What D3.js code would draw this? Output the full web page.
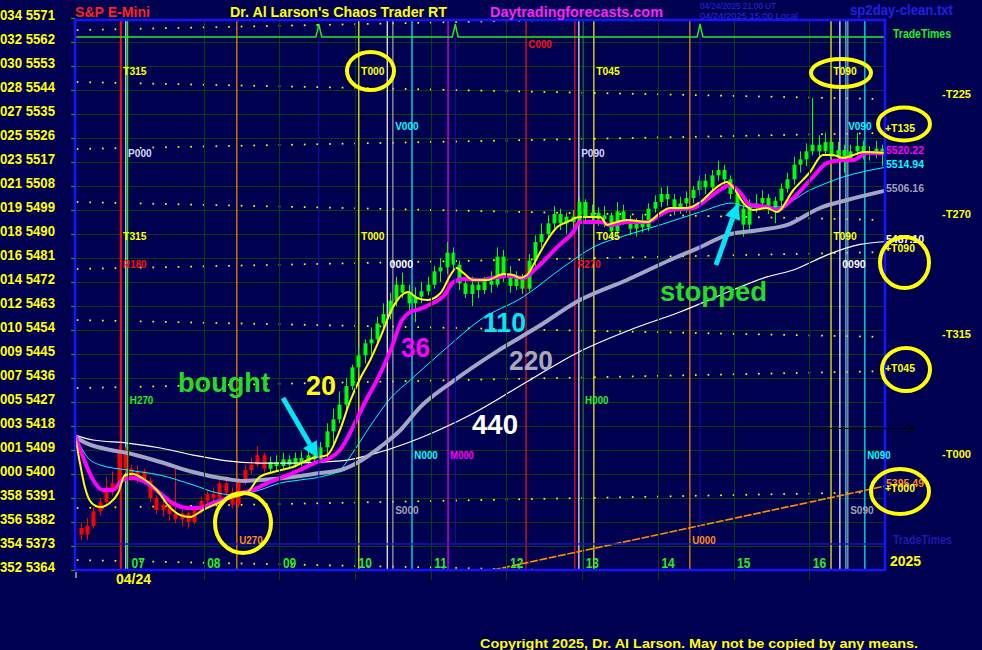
<!DOCTYPE html>
<html><head><meta charset="utf-8">
<script src="https://cdn.jsdelivr.net/npm/d3@7"></script>
<style>html,body{margin:0;padding:0;background:#000050;overflow:hidden}svg{display:block}</style>
</head><body><svg id="c" width="982" height="650"></svg>
<script>
// ---------------- DATA ----------------
const priceTicks=[5364,5373,5382,5391,5400,5409,5418,5427,5436,5445,5454,5463,5472,5481,5490,5499,5508,5517,5526,5535,5544,5553,5562,5571];
const degreeLabels=["352","354","356","358","000","001","003","005","007","009","010","012","014","016","018","019","021","023","025","027","028","030","032","034"];
const hourTicks=[7,8,9,10,11,12,13,14,15,16];
const hourLabels=["07","08","09","10","11","12","13","14","15","16"];

// 5-minute bars starting 06:20
const barStartHour=6+20/60, barMinutes=5, firstLongBar=30;
const barOpen=[5379.75,5377.25,5380.5,5386,5389.5,5394,5396.5,5409,5402,5399,5401,5397.5,5391,5386.5,5388.5,5385,5383,5385.25,5382,5386.5,5390,5392.5,5391,5396.5,5393,5388.5,5397,5401.5,5403.5,5407,
5402,5404.5,5403,5405.5,5403.5,5406,5404.5,5407,5405.5,5410,5416,5420.5,5426,5433,5440,5444.5,5449,5450.5,5456.5,5460,5465,5471,5468,5464,5466.5,5468.5,5471,5476,5477.5,5483,
5478.5,5471.5,5467.5,5471,5469,5472.5,5471,5481.5,5475,5470.5,5473.5,5469.5,5480,5487,5490,5494,5497.5,5494,5496.5,5494.5,5502,5496,5498,5495.5,5497,5491,5498.5,5495.5,5492,5494,
5492.5,5499.5,5502,5505,5503,5499.5,5501.5,5503.5,5506.5,5510,5507.5,5512,5514,5510.5,5505,5499.5,5493.5,5500,5501.5,5503.5,5500,5502.5,5507,5510.5,5516,5518,5521,5523.5,5521,5524.5,
5519,5521.5,5518.5,5521,5523,5520,5521,5522];
const barHigh=[5381.5,5383.5,5387.5,5391,5399,5401,5410.5,5410,5403.5,5403,5402,5398.5,5392,5391.5,5390,5402,5386.5,5386,5388,5391.5,5394,5395,5397.5,5399,5395,5398.5,5403.5,5406,5410.5,5408,
5406.5,5407,5408,5407,5408,5408.5,5409,5410.5,5412,5419,5424.5,5431,5436,5441,5447.5,5450.5,5455,5459,5464,5468,5474,5475.5,5471,5470,5472,5474,5478,5481,5487,5485,
5480,5473,5474,5472.5,5474,5476,5485,5484,5478,5476,5475,5482.5,5489.5,5494,5497,5500.5,5499.5,5498,5499,5504,5503,5501,5500,5500.5,5498,5502,5501,5497,5496,5497.5,
5501.5,5504.5,5507.5,5508,5505,5504,5506,5508,5512,5512.5,5514,5517.5,5516,5512,5507,5501,5503,5505,5506.5,5505,5504,5509,5513,5519,5521,5524,5541,5527,5528,5526,
5524.5,5523.5,5523.5,5528,5525,5523,5525,5523.5];
const barLow=[5375.25,5375.25,5379.5,5384.5,5388.5,5392,5395,5400.5,5397.5,5396.5,5396,5389.5,5385,5384,5382.5,5381.5,5380.5,5379.5,5381,5385,5389,5389.5,5390,5391.5,5387,5387.5,5396,5400,5402.5,5400.5,
5400.5,5401,5402,5402,5402.5,5403,5403.5,5404,5404.5,5406,5411,5419,5424,5431.5,5438,5441.5,5444.5,5448,5454,5458,5463,5466,5461.5,5457,5464,5467,5469.5,5472,5475,5476,
5469,5466,5463,5466,5467.5,5468,5470,5472,5468,5469,5467.5,5468.5,5478,5485,5488,5492,5491.5,5490,5492,5493,5494,5494,5493,5492.5,5488,5489.5,5493.5,5489.5,5489,5490.5,
5491,5498,5500,5500.5,5497,5497.5,5498,5501.5,5504.5,5505,5506,5510,5508.5,5503,5497,5489,5491,5498,5499.5,5497.5,5494,5500.5,5505.5,5508.5,5513,5515.5,5519.5,5518.5,5520,5516,
5517.5,5513,5517,5519.5,5518,5517.5,5518.5,5515.5];
const barClose=[5377.25,5380.5,5386,5389.5,5394,5396.5,5409,5402,5399,5401,5397.5,5391,5386.5,5388.5,5385,5383,5385.25,5382,5386.5,5390,5392.5,5391,5396.5,5393,5388.5,5397,5401.5,5403.5,5407,5402,
5404.5,5403,5405.5,5403.5,5406,5404.5,5407,5405.5,5410,5416,5420.5,5426,5433,5440,5444.5,5449,5450.5,5456.5,5460,5465,5471,5468,5464,5466.5,5468.5,5471,5476,5477.5,5483,5478.5,
5471.5,5467.5,5471,5469,5472.5,5471,5481.5,5475,5470.5,5473.5,5469.5,5480,5487,5490,5494,5497.5,5494,5496.5,5494.5,5502,5496,5498,5495.5,5497,5491,5498.5,5495.5,5492,5494,5492.5,
5499.5,5502,5505,5503,5499.5,5501.5,5503.5,5506.5,5510,5507.5,5512,5514,5510.5,5505,5499.5,5493.5,5500,5501.5,5503.5,5500,5502.5,5507,5510.5,5516,5518,5521,5523.5,5521,5524.5,5519,
5521.5,5518.5,5521,5523,5520,5521,5522,5520];

// moving averages: [hour, price]
const ma20=[[6.30,5414.6],[6.37,5403.4],[6.43,5395.1],[6.52,5389.1],[6.63,5387.6],[6.76,5389.1],[6.87,5392.9],[6.96,5399.6],[7.06,5400],[7.19,5398.5],[7.38,5394],[7.55,5387.6],[7.69,5384.6],[7.82,5383.9],[7.99,5386.5],[8.19,5389.1],[8.39,5391.4],[8.57,5392.9],[8.74,5398.9],[8.92,5400.75],[9.18,5402.6],[9.44,5406],[9.63,5407.1],[9.80,5416.5],[9.93,5427],[10.07,5436],[10.20,5442.75],[10.33,5451],[10.50,5462.6],[10.70,5468.25],[10.82,5466],[10.95,5465.25],[11.13,5467.9],[11.26,5474.6],[11.34,5477.25],[11.43,5475.4],[11.56,5472.75],[11.75,5472.75],[11.96,5475],[12.09,5474.6],[12.18,5473.5],[12.27,5474.6],[12.41,5481.4],[12.54,5487.75],[12.67,5492.6],[12.80,5494.5],[12.97,5496.4],[13.24,5496.4],[13.33,5493.4],[13.41,5494.1],[13.59,5495.25],[13.86,5494.5],[14.03,5497.9],[14.16,5499.75],[14.39,5499.75],[14.56,5502],[14.78,5507.6],[14.91,5509.5],[14.99,5507.6],[15.13,5501.6],[15.26,5499],[15.44,5499.75],[15.57,5498.25],[15.79,5506.5],[16.01,5513.25],[16.18,5519.6],[16.31,5519.6],[16.45,5518.5],[16.58,5519.6],[16.71,5520.75],[16.99,5520.4]];
const ma36=[[6.30,5414.6],[6.46,5402.6],[6.54,5397.75],[6.67,5394],[6.80,5394],[6.93,5397.75],[7.07,5398.5],[7.25,5396.6],[7.42,5392.9],[7.59,5389.1],[7.78,5387.25],[7.95,5387.25],[8.12,5389.1],[8.31,5391],[8.48,5392.9],[8.65,5394],[8.84,5396.6],[9.01,5398.5],[9.27,5401.5],[9.50,5404.5],[9.67,5406],[9.80,5409],[10.03,5421],[10.16,5428.5],[10.29,5435.25],[10.47,5446.5],[10.62,5457.75],[10.73,5460.75],[10.86,5461.9],[11.00,5463.75],[11.17,5466.75],[11.30,5472],[11.43,5473.1],[11.65,5472.75],[11.88,5473.9],[12.05,5474.25],[12.22,5473.5],[12.41,5477.6],[12.67,5485.1],[12.88,5490.75],[12.97,5494.5],[13.24,5494.5],[13.37,5493.4],[13.59,5494.5],[13.86,5494.5],[14.03,5497.1],[14.16,5499],[14.47,5499.75],[14.60,5502],[14.82,5506.5],[14.95,5508.4],[15.09,5505.4],[15.22,5500.9],[15.44,5500.1],[15.57,5499],[15.79,5503.5],[16.05,5511.4],[16.23,5516.6],[16.45,5517.75],[16.58,5517.75],[16.76,5520.4],[16.99,5520.22]];
const ma110=[[6.30,5414.25],[6.33,5412.75],[6.46,5406.4],[6.63,5403.4],[6.99,5401.5],[7.42,5399.6],[7.86,5395.9],[8.18,5392.9],[8.44,5392.1],[8.74,5394],[9.01,5396.6],[9.27,5397.75],[9.54,5398.9],[9.80,5401.5],[9.94,5406.75],[10.20,5418],[10.47,5428.5],[10.73,5435.25],[11.22,5447.6],[11.65,5457.75],[12.22,5466.4],[12.75,5477.6],[13.15,5485.1],[13.59,5489.6],[14.03,5493.4],[14.56,5498.25],[14.99,5501.6],[15.18,5500.1],[15.57,5500.1],[16.01,5506.5],[16.45,5511.4],[16.99,5514.94]];
const ma220=[[6.30,5414.25],[6.37,5412.75],[6.77,5409],[6.99,5407.9],[7.43,5404.5],[7.86,5400.75],[8.31,5398.1],[8.52,5397.4],[8.75,5397.75],[9.18,5398.9],[9.54,5400.4],[9.81,5401.5],[10.07,5404.9],[10.33,5410.1],[10.60,5416.5],[10.86,5425.1],[11.26,5434.1],[11.88,5446.1],[12.41,5455.1],[12.97,5465.25],[13.59,5472.75],[14.16,5480.25],[14.56,5485.1],[14.91,5489.6],[15.35,5491.5],[15.71,5493.4],[16.14,5499.75],[16.50,5502.75],[16.99,5506.16]];
const ma440=[[6.30,5414.6],[6.54,5412.75],[6.99,5411.6],[7.43,5409.75],[7.86,5407.1],[8.31,5404.9],[8.75,5404.1],[9.18,5404.1],[9.81,5404.9],[10.33,5408.25],[10.86,5413.5],[11.52,5422.1],[12.31,5435.25],[12.93,5445.4],[13.63,5454],[14.29,5460.75],[14.99,5469],[15.44,5473.9],[15.79,5476.5],[16.23,5482.1],[16.67,5486.1],[16.99,5487.1]];
const orangeTrend=[[11.82,5364],[17.0,5395.49]];
const lastValues=[5520.22,5514.94,5506.16,5487.10,5395.49];

// event (vertical) lines
const vlineTimes=[6.905,6.971,6.994,8.438,10.049,10.425,10.499,10.752,11.228,12.258,12.903,12.956,13.008,13.154,14.422,16.287,16.404,16.483,16.509,16.734];
const vlineColors=["#ff1010","#e8e8ff","#22ee22","#ff8c00","#ffff00","#ffffff","#a8a8a8","#00ffff","#ff00ff","#ff1010","#ff1010","#f0f0ff","#22ee22","#ffff00","#ff8c00","#ffff00","#ffffff","#40e8ff","#a8a8a8","#00ffff"];
const vlabelTimes=[6.905,6.905,6.905,6.971,6.994,8.438,10.049,10.049,10.425,10.499,10.499,10.752,11.228,12.258,12.903,12.956,13.008,13.154,13.154,14.422,16.287,16.287,16.404,16.483,16.509,16.734];
const vlabelTexts=["T315","T315","R180","P000","H270","U270","T000","T000","0000","V000","S000","N000","M000","C000","R270","P090","H000","T045","T045","U000","T090","T090","0090","V090","S090","N090"];
const vlabelRows=["T1","T2","R","P","H","U","T1","T2","O","V","S","N","M","C","R","P","H","T1","T2","U","T1","T2","O","V","S","N"];
const tradeTimes=[9.521,11.323,14.557];

// harmonic price levels (right side)
const plusLevelPrices=[5529.75,5484.75,5439.75,5394.75];
const plusLevelLabels=["+T135","+T090","+T045","+T000"];
const minusLevelPrices=[5542.5,5497.5,5452.5,5407.5];
const minusLevelLabels=["-T225","-T270","-T315","-T000"];
const markerPrice=5417.25, markerFrom=16.05, markerTo=17.39;

// dotted level rows: price at 06:20 and at 17:00
const dotRowStart=[5566.5,5547,5521.9,5502,5476.9,5457.75,5432.25,5387.25,5367.75];
const dotRowEnd=[5572.9,5540.6,5527.9,5495.25,5483.25,5451.4,5438.6,5393.25,5361.4];

// ---------------- DRAW ----------------
const FONT="'Liberation Sans', Arial, Helvetica, sans-serif";
const svg=d3.select('#c');
svg.append('rect').attr('width',982).attr('height',650).attr('fill','#000050');
const L=75,R=885,T=20,B=570;
const x=d3.scaleLinear().domain([6.3,17]).range([L,R]);
const y=d3.scaleLinear().domain([5364,5571]).range([B,18]);

svg.append('clipPath').attr('id','clip').append('rect').attr('x',L).attr('y',T).attr('width',R-L).attr('height',B-T);
const gp=svg.append('g').attr('clip-path','url(#clip)');

function txt(g,xx,yy,s,o){
  const t=g.append('text').attr('x',xx).attr('y',yy).text(s)
   .attr('fill',o.color).attr('font-size',o.size).attr('font-weight',o.weight||'bold')
   .attr('font-family',FONT);
  if(o.anchor) t.attr('text-anchor',o.anchor);
  if(o.width) t.attr('textLength',o.width).attr('lengthAdjust','spacingAndGlyphs');
  else if(o.squeeze){const n=t.node().getComputedTextLength();t.attr('textLength',n*o.squeeze).attr('lengthAdjust','spacingAndGlyphs');}
  return t;
}

// grid
const gridC='#0b3e0b';
gp.selectAll('.hg').data(priceTicks).enter().append('line')
  .attr('x1',L).attr('x2',R).attr('y1',d=>Math.round(y(d))+0.5).attr('y2',d=>Math.round(y(d))+0.5)
  .attr('stroke',gridC).attr('stroke-width',1);
svg.selectAll('.vg').data(hourTicks).enter().append('line')
  .attr('x1',d=>Math.round(x(d))+0.5).attr('x2',d=>Math.round(x(d))+0.5).attr('y1',T).attr('y2',580)
  .attr('stroke',gridC).attr('stroke-width',1);

// dotted rows
const dotTimes=d3.range(0,64).map(i=>barStartHour+i*10/60);
dotRowStart.forEach((p0,ri)=>{
  const p1=dotRowEnd[ri];
  const pr=t=>p0+(p1-p0)*(t-barStartHour)/(17-barStartHour);
  gp.selectAll(null).data(dotTimes).enter().append('rect')
    .attr('x',t=>x(t)-0.8).attr('y',t=>y(pr(t))-0.8).attr('width',1.7).attr('height',1.7).attr('fill','#ffff00');
});

// trade-time panels
const ttY=d3.scaleLinear().domain([0,1]).range([37,24]);
const ttPts=[[L,0]];
tradeTimes.forEach(t=>{const cx=x(t);ttPts.push([cx-3,0],[cx-1.5,0.45],[cx,1],[cx+1.5,0.45],[cx+3,0]);});
ttPts.push([R,0]);
svg.selectAll('.ttv').data(tradeTimes).enter().append('line')
  .attr('x1',d=>x(d)).attr('x2',d=>x(d)).attr('y1',37).attr('y2',544).attr('stroke','#1414b4').attr('stroke-width',1);
svg.append('line').attr('x1',L).attr('x2',R).attr('y1',544).attr('y2',544).attr('stroke','#1818b0').attr('stroke-width',1.5);
svg.append('path').datum(ttPts).attr('d',d3.line().x(d=>d[0]).y(d=>ttY(d[1]))).attr('fill','none').attr('stroke','#22ee22').attr('stroke-width',1.5);

// event lines
gp.selectAll('.ev').data(vlineTimes).enter().append('line')
  .attr('x1',d=>x(d)).attr('x2',d=>x(d)).attr('y1',T).attr('y2',B)
  .attr('stroke',(d,i)=>vlineColors[i]).attr('stroke-width',(d,i)=>i===0?2:1.2);

// orange trend
gp.append('path').datum(orangeTrend).attr('d',d3.line().x(d=>x(d[0])).y(d=>y(d[1])))
  .attr('fill','none').attr('stroke','#ff8c00').attr('stroke-width',1.6).attr('stroke-dasharray','8,1.5');

// candles
const bars=barClose.map((c,i)=>({t:barStartHour+(i+0.5)*barMinutes/60,o:barOpen[i],h:barHigh[i],l:barLow[i],c:c,col:i<firstLongBar?'#ff0000':'#00ff00'}));
gp.selectAll('.wick').data(bars).enter().append('line')
  .attr('x1',d=>Math.round(x(d.t))+0.5).attr('x2',d=>Math.round(x(d.t))+0.5).attr('y1',d=>y(d.h)).attr('y2',d=>y(d.l))
  .attr('stroke',d=>d.col).attr('stroke-width',1);
gp.selectAll('.body').data(bars).enter().append('rect')
  .attr('x',d=>Math.round(x(d.t))-1.5).attr('width',4)
  .attr('y',d=>y(Math.max(d.o,d.c))).attr('height',d=>Math.max(1,Math.abs(y(d.o)-y(d.c))))
  .attr('fill',d=>d.col);

// moving averages
const ml=d3.line().x(d=>x(d[0])).y(d=>y(d[1])).curve(d3.curveMonotoneX);
[[ma440,'#ffffff',1.2],[ma220,'#a4a4c4',4],[ma110,'#00ffff',1],[ma36,'#ff00ff',4],[ma20,'#ffff00',2]].forEach(([data,c,w])=>{
  gp.append('path').datum(data).attr('d',ml).attr('fill','none').attr('stroke',c).attr('stroke-width',w).attr('stroke-linejoin','round');
});

// border
svg.append('rect').attr('x',L).attr('y',T).attr('width',R-L).attr('height',B-T).attr('fill','none').attr('stroke','#1414ff').attr('stroke-width',2.5);

// event labels
const rowY={T1:71,T2:236,C:44,V:126,P:153,R:264,O:264,H:400,N:455,M:455,S:510,U:540};
const rowC={T1:'#ffff00',T2:'#ffff00',C:'#ff1010',V:'#00ffff',P:'#d8d8ff',R:'#ff1010',O:'#ffffff',H:'#22ee22',N:'#00ffff',M:'#ff00ff',S:'#a0a0b0',U:'#ff8c1a'};
vlabelTimes.forEach((t,i)=>{
  const r=vlabelRows[i];
  txt(svg,x(t)+2.3,rowY[r]+4,vlabelTexts[i],{color:rowC[r],size:11.5,width:23.5});
});

// y axis
const yAxis=d3.axisLeft(y).tickValues(priceTicks).tickFormat((d,i)=>degreeLabels[i]+' '+d).tickSize(4).tickPadding(10);
const ga=svg.append('g').attr('transform',`translate(${L},0)`).call(yAxis);
ga.select('.domain').remove();
ga.selectAll('line').attr('stroke','#13a313').attr('stroke-width',1.2);
ga.selectAll('text').attr('x',-L).attr('dy',0).attr('y',1).attr('text-anchor','start')
  .attr('fill','#ffff00').attr('font-size',15).attr('font-weight','bold').attr('font-family',FONT)
  .attr('textLength',55).attr('lengthAdjust','spacingAndGlyphs');

// x axis (hours)
const xAxis=d3.axisBottom(x).tickValues(hourTicks).tickFormat((d,i)=>hourLabels[i]).tickSize(0).tickPadding(0);
const gx=svg.append('g').attr('transform',`translate(0,${B})`).call(xAxis);
gx.select('.domain').remove();
gx.selectAll('text').attr('dy',0).attr('y',-2).attr('x',3).attr('text-anchor','start')
  .attr('fill','#22ee22').attr('font-size',15).attr('font-weight','bold').attr('font-family',FONT)
  .each(function(){const n=this.getComputedTextLength();d3.select(this).attr('textLength',n*0.8).attr('lengthAdjust','spacingAndGlyphs');});
svg.append('line').attr('x1',76).attr('x2',76).attr('y1',572).attr('y2',578).attr('stroke','#ffffcc').attr('stroke-width',1);
txt(svg,116,584,'04/24',{color:'#ffff00',size:15,width:35});
txt(svg,890,566,'2025',{color:'#ffff00',size:14.5,width:31});

// right side values
const lvColors=['#ff00ff','#00ffff','#a0a0b4','#ffffff','#ff8c1a'];
lastValues.forEach((v,i)=>txt(svg,886,y(v)+1,v.toFixed(2),{color:lvColors[i],size:11.5,width:38}));
plusLevelPrices.forEach((p,i)=>txt(svg,885,y(p)+4,plusLevelLabels[i],{color:'#ffff00',size:11.5,width:30}));
minusLevelPrices.forEach((p,i)=>txt(svg,942,y(p)+4,minusLevelLabels[i],{color:'#ffff00',size:11.5,width:29}));

// marker arrow
const my=Math.round(y(markerPrice))+0.5;
svg.append('line').attr('x1',x(markerFrom)).attr('x2',x(markerTo)).attr('y1',my).attr('y2',my).attr('stroke','#000000').attr('stroke-width',1);
svg.append('path').attr('d',`M${x(markerTo)-10},${my-5}L${x(markerTo)},${my}L${x(markerTo)-10},${my+5}`).attr('fill','none').attr('stroke','#000000').attr('stroke-width',1);

// annotations
const ann=[['bought',178,392,'#22dd22',92],['20',306,395,'#ffff00',30],['36',401,357,'#ff00ff',29],['110',483,332,'#00e8f0',43],['220',509,370,'#a8a8b8',44],['440',472,434,'#ffffff',46],['stopped',660,301,'#22dd22',107]];
ann.forEach(a=>txt(svg,a[1],a[2],a[0],{color:a[3],size:27,width:a[4]}));
function arrow(x0,y0,x1,y1,c){
  const dx=x1-x0,dy=y1-y0,len=Math.hypot(dx,dy),ux=dx/len,uy=dy/len,px=-uy,py=ux;
  const hl=16,hw=8,bx=x1-ux*hl,by=y1-uy*hl;
  svg.append('line').attr('x1',x0).attr('y1',y0).attr('x2',bx).attr('y2',by).attr('stroke',c).attr('stroke-width',5);
  svg.append('path').attr('d',`M${x1},${y1}L${bx+px*hw},${by+py*hw}L${bx-px*hw},${by-py*hw}Z`).attr('fill',c);
}
arrow(283,398,318,458,'#00e8f8');
arrow(716,265,738,203,'#00e8f8');

// ellipses
[[370.5,71,23.5,19],[841,73,30,14],[904,124,26,16.5],[904.5,262.5,24.5,25.5],[906,369.5,24,21.5],[900,491.5,29,22.5],[243,523,28,30]].forEach(e=>{
  svg.append('ellipse').attr('cx',e[0]).attr('cy',e[1]).attr('rx',e[2]).attr('ry',e[3]).attr('fill','none').attr('stroke','#ffff00').attr('stroke-width',4);
});

// header
txt(svg,75,17,'S&P E-Mini',{color:'#ff2020',size:14,width:75});
txt(svg,230,17,"Dr. Al Larson's Chaos Trader RT",{color:'#ffff00',size:14,width:217});
txt(svg,490,17,'Daytradingforecasts.com',{color:'#ff22ff',size:14,width:173});
txt(svg,700,9,'04/24/2025 21:00 UT',{color:'#2a2ae0',size:9.5,weight:'normal',width:76});
txt(svg,700,19,'04/24/2025 15:00 Local',{color:'#2a2ae0',size:9.5,weight:'normal',width:98});
txt(svg,850,15,'sp2day-clean.txt',{color:'#2020e0',size:14,width:103});
txt(svg,893,38,'TradeTimes',{color:'#22ee22',size:12.5,width:58});
txt(svg,893,544,'TradeTimes',{color:'#1c1ca8',size:12.5,width:59});
txt(svg,480,648,'Copyright 2025, Dr. Al Larson. May not be copied by any means.',{color:'#ffff00',size:12.5,width:438});
</script></body></html>
